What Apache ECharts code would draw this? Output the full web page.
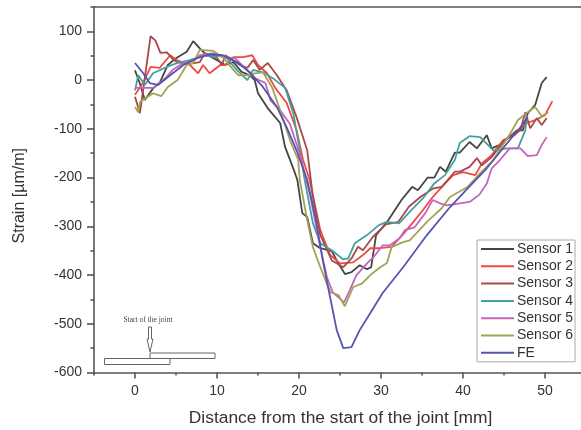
<!DOCTYPE html>
<html><head><meta charset="utf-8">
<style>html,body{margin:0;padding:0;background:#fff}#c{width:581px;height:430px}</style>
<script src="https://cdn.jsdelivr.net/npm/echarts@6/dist/echarts.min.js"></script>
</head><body><div id="c"></div>
<script>
const sensor1=[[0,20],[0.6,-7],[1.2,-41],[2.2,-17],[3,-6],[4,31],[5,45],[6.3,58],[7.1,80],[7.9,65],[8.5,55],[10,41],[11,31],[12,37],[13,17],[14,10],[14.6,0],[15,-27],[16.2,-58],[17.7,-88],[18.3,-137],[19.3,-181],[19.8,-205],[20.4,-273],[21,-281],[21.7,-335],[22.6,-345],[24,-351],[24.6,-370],[25.6,-398],[26.4,-394],[27.4,-380],[28.3,-388],[28.8,-384],[29.4,-318],[29.9,-308],[30.9,-287],[32.5,-246],[33.8,-219],[34.5,-226],[35.7,-200],[36.5,-200],[37.2,-178],[37.9,-188],[39,-149],[39.6,-149],[40.8,-127],[41.7,-140],[42.9,-113],[43.5,-140],[44.5,-133],[45.5,-119],[46.6,-103],[47.3,-103],[47.9,-68],[48.8,-51],[49.6,-6],[50.2,6]];
const sensor2=[[0,-30],[1,-5],[1.9,27],[3,25],[4.3,51],[5.1,41],[6.7,31],[7.7,14],[8.3,31],[9.1,14],[10.4,31],[11,31],[12,47],[13.2,47],[14.3,51],[15,31],[16.1,14],[17.1,-16],[18.5,-47],[19.7,-103],[20.5,-164],[21.3,-205],[22.6,-308],[23.8,-359],[25,-376],[26.6,-374],[27.8,-359],[28.7,-345],[29.9,-345],[31.3,-342],[32.6,-318],[33.8,-294],[35.1,-267],[36.3,-240],[37.6,-216],[38.8,-195],[40,-189],[41.5,-195],[42.3,-171],[43.5,-154],[44.9,-123],[46.3,-113],[47.8,-88],[48.8,-82],[50,-72],[50.9,-43]];
const sensor3=[[0,-34],[0.6,-68],[1.9,90],[2.5,81],[3.1,56],[3.9,57],[4.5,45],[5.1,37],[6.5,33],[7.9,37],[8.5,55],[9.8,51],[10.6,31],[11,51],[11.6,45],[12.8,31],[13.7,25],[14.4,41],[15.2,21],[16.2,35],[17.3,10],[18.5,-21],[19.7,-76],[21,-144],[21.7,-240],[22.6,-318],[24,-370],[25.4,-384],[26.4,-366],[27.2,-342],[27.8,-349],[29,-322],[30.6,-296],[32.1,-291],[33.4,-260],[34.8,-240],[36.4,-222],[37.4,-219],[39,-188],[39.6,-188],[40.8,-178],[41.7,-160],[42.3,-175],[43.5,-158],[45.1,-123],[47,-103],[47.6,-66],[48.2,-99],[49,-78],[49.6,-92],[50.2,-78]];
const sensor4=[[0,-21],[0.4,10],[1.2,-10],[2.2,14],[3.9,27],[5.1,35],[6.7,41],[8.3,51],[9.8,47],[10.4,51],[11.2,45],[12.4,21],[13.7,0],[14.4,21],[15.6,16],[16.8,4],[18.3,-16],[19.3,-68],[20.1,-144],[20.7,-205],[21.7,-294],[22.6,-335],[24,-349],[25.4,-368],[26,-366],[26.8,-335],[28.3,-318],[29.7,-298],[30.7,-291],[32.2,-294],[33.7,-267],[35.2,-241],[36.5,-212],[37.8,-195],[39,-164],[39.6,-129],[40.8,-115],[42.1,-117],[43.7,-144],[45.4,-140],[46.7,-140],[47.6,-103],[47.8,-72]];
const sensor5=[[0,-16],[0.6,-16],[2.2,-16],[3.7,4],[4.6,21],[5.9,35],[7.1,41],[7.9,51],[9.5,55],[10.7,47],[12.2,45],[13.4,25],[14.6,4],[15.9,-6],[16.5,-41],[17.7,-62],[18.9,-90],[20.1,-152],[21.3,-232],[22.6,-343],[23.4,-404],[24.1,-435],[25.5,-456],[26.2,-431],[27,-400],[28.3,-376],[29.3,-359],[30.2,-339],[31.1,-339],[32.3,-324],[32.9,-308],[34.1,-302],[35.4,-273],[36.3,-246],[37.2,-253],[38,-257],[39.6,-253],[40.8,-250],[42,-235],[42.9,-212],[43.5,-181],[44.5,-164],[45.7,-140],[47,-140],[47.9,-156],[49,-154],[49.6,-133],[50.2,-117]];
const sensor6=[[0,-55],[0.4,-66],[0.6,-45],[2.2,-27],[3.2,-33],[4,-14],[5.2,0],[6.3,31],[7.1,35],[7.9,62],[9.5,60],[10.7,47],[12,21],[12.6,10],[13.7,10],[14.6,14],[15.6,16],[16.7,-14],[17.7,-62],[18.9,-123],[19.9,-164],[20.1,-205],[21,-287],[21.7,-343],[22.6,-384],[23.8,-435],[24.8,-441],[25.6,-464],[26.6,-425],[27.7,-417],[28.7,-400],[29.9,-384],[30.7,-376],[31.3,-343],[32.6,-333],[33.5,-329],[35.6,-291],[37.4,-263],[38.4,-240],[40.5,-220],[42.1,-191],[43.7,-164],[45.1,-127],[46,-103],[46.7,-82],[48.2,-62],[48.8,-55],[49.6,-74],[50.4,-66]];
const feModel=[[0,35],[1,14],[1.8,-6],[2.8,-10],[4.3,10],[5.9,31],[7.6,45],[9.1,53],[10.7,51],[12.4,37],[14,16],[15.6,-14],[17.3,-55],[18.5,-97],[19.7,-144],[21,-205],[22,-281],[22.9,-370],[23.8,-446],[24.6,-513],[25.4,-550],[26.4,-548],[27.4,-513],[28.7,-478],[30.2,-437],[32.7,-384],[35.6,-318],[38.4,-261],[40.8,-218],[42.9,-181],[45.4,-129],[47,-97],[47.9,-76]];

const seriesNames=['Sensor 1','Sensor 2','Sensor 3','Sensor 4','Sensor 5','Sensor 6','FE'];
const seriesValues=[sensor1,sensor2,sensor3,sensor4,sensor5,sensor6,feModel];
const seriesColors=['#454545','#ee4a45','#a84a48','#45a0a0','#c563c0','#a3a355','#5555b0'];
const xMajor=[0,10,20,30,40,50];
const xMinor=[-5,5,15,25,35,45];
const yMajor=[-600,-500,-400,-300,-200,-100,0,100];
const yMinor=[-550,-450,-350,-250,-150,-50,50,150];

const AX='#555';
const FONT='"Liberation Sans",Arial,sans-serif';
const xBase={type:'value',min:-5,max:54.39,position:'bottom',splitLine:{show:false}};
const yBase={type:'value',min:-600,max:150,position:'left',splitLine:{show:false}};
const chart=echarts.init(document.getElementById('c'),null,{renderer:'canvas'});
chart.setOption({
  animation:false,
  backgroundColor:'#fff',
  grid:{left:94,right:0,top:7,bottom:57.5,outerBoundsMode:'none'},
  legend:{
    orient:'vertical',left:477,top:240,
    padding:[2,2,2,3],itemWidth:33,itemHeight:13,itemGap:3.3,
    backgroundColor:'#fff',borderColor:'#aaa',borderWidth:1,borderRadius:0,
    itemStyle:{opacity:0},
    textStyle:{fontFamily:FONT,fontSize:14,color:'#333',padding:[0,0,0,-2]},
    data:seriesNames
  },
  xAxis:[
    {...xBase,name:'Distance from the start of the joint [mm]',nameLocation:'middle',nameGap:37,nameMoveOverlap:false,
     nameTextStyle:{fontFamily:FONT,fontSize:17.4,color:'#333',padding:[0,0,0,6]},
     axisLine:{onZero:false,lineStyle:{color:AX,width:1.6}},
     axisTick:{show:true,customValues:xMajor,length:6,lineStyle:{color:AX,width:1.6}},
     axisLabel:{show:true,customValues:xMajor,fontFamily:FONT,fontSize:14,color:'#333',margin:12}},
    {...xBase,axisLine:{show:false,onZero:false},axisLabel:{show:false},
     axisTick:{show:true,customValues:xMinor,length:3,lineStyle:{color:AX,width:1.6}}},
    {...xBase,position:'top',axisLine:{show:true,onZero:false,lineStyle:{color:AX,width:1.6}},axisTick:{show:false},axisLabel:{show:false}}
  ],
  yAxis:[
    {...yBase,name:'Strain [\u00b5m/m]',nameLocation:'middle',nameGap:66,nameMoveOverlap:false,
     nameTextStyle:{fontFamily:FONT,fontSize:16,color:'#333',padding:[0,12,0,0]},
     axisLine:{onZero:false,lineStyle:{color:AX,width:1.6}},
     axisTick:{show:true,customValues:yMajor,length:7,lineStyle:{color:AX,width:1.6}},
     axisLabel:{show:true,customValues:yMajor,fontFamily:FONT,fontSize:14,color:'#333',margin:12}},
    {...yBase,axisLine:{show:false,onZero:false},axisLabel:{show:false},
     axisTick:{show:true,customValues:yMinor,length:3.5,lineStyle:{color:AX,width:1.6}}}
  ],
  series:seriesNames.map((n,i)=>({
    name:n,type:'line',xAxisIndex:0,yAxisIndex:0,showSymbol:false,symbol:'none',
    data:seriesValues[i],smooth:false,clip:true,
    lineStyle:{color:seriesColors[i],width:1.8},itemStyle:{color:seriesColors[i]}
  })),
  graphic:[
    {type:'rect',shape:{x:104.5,y:358.5,width:65.5,height:6},style:{fill:'#fff',stroke:'#666',lineWidth:1}},
    {type:'rect',shape:{x:150,y:353,width:65,height:5.5},style:{fill:'#fff',stroke:'#666',lineWidth:1}},
    {type:'polygon',shape:{points:[[148.5,327],[151.5,327],[151.5,339],[153,339],[150,352],[147,339],[148.5,339]]},style:{fill:'#fff',stroke:'#666',lineWidth:1}},
    {type:'text',style:{x:148,y:320.5,text:'Start of the joint',align:'center',verticalAlign:'middle',font:'7.5px "Liberation Serif",serif',fill:'#444'}}
  ]
});
</script></body></html>
